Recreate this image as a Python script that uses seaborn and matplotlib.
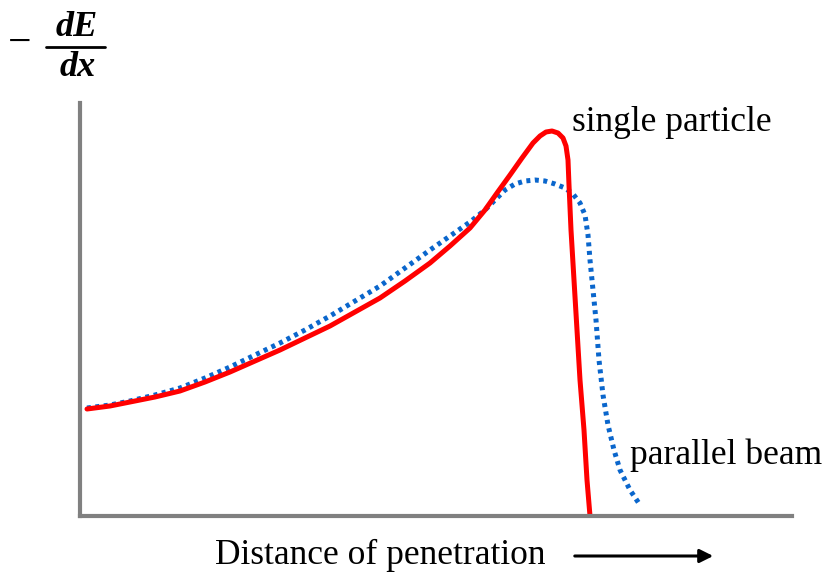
import numpy as np
import pandas as pd
import matplotlib
matplotlib.use('Agg')
import matplotlib.pyplot as plt
import seaborn as sns
from matplotlib.lines import Line2D

# curve values (arbitrary units)
x_single = [7, 30, 50, 75, 100, 125, 150, 175, 200, 225, 250, 275, 300, 325, 350, 370, 390, 405,
            417, 430, 442, 453, 460, 466, 472, 478, 483, 486, 488, 489, 491, 494, 497, 500, 504, 507, 510]
y_single = [107, 110, 114, 119, 125, 134, 144, 155, 166, 178, 190, 204, 218, 235, 253, 270, 288, 306,
            323, 341, 358, 373, 380, 384, 385, 383, 378, 370, 356, 331, 286, 236, 186, 136, 86, 36, 0]

x_beam = [7, 30, 50, 75, 100, 125, 150, 175, 200, 225, 250, 275, 300, 325, 350, 370, 390, 405, 415,
          425, 435, 445, 455, 465, 475, 485, 493, 500, 505, 508, 510, 513, 516, 519, 523, 528, 534, 540,
          550, 560]
y_beam = [108, 111, 115, 121, 128, 138, 149, 161, 173, 186, 200, 215, 230, 248, 266, 280, 294, 306, 316,
          326, 332, 335, 336, 335, 332, 328, 322, 313, 301, 281, 256, 226, 196, 156, 121, 91, 66, 46,
          26, 11]

df_single = pd.DataFrame({'x': x_single, 'y': y_single})
df_beam = pd.DataFrame({'x': x_beam, 'y': y_beam})

sns.set_style('white')
plt.rcParams['font.family'] = ['Liberation Serif', 'DejaVu Serif']
plt.rcParams['text.color'] = 'black'

fig = plt.figure(figsize=(8.27, 5.73), dpi=100)
ax = fig.add_axes([80/827, 57/573, 712/827, 413/573])

sns.lineplot(data=df_beam, x='x', y='y', ax=ax, color='#0a66cc', lw=3.6,
             linestyle=(0, (0.8, 0.9)), sort=False)
sns.lineplot(data=df_single, x='x', y='y', ax=ax, color='#ff0000', lw=3.6, sort=False)

ax.set_xlim(0, 712)
ax.set_ylim(0, 413)
ax.set_xticks([])
ax.set_yticks([])
ax.set_xlabel('')
ax.set_ylabel('')
for s in ['top', 'right']:
    ax.spines[s].set_visible(False)
for s in ['left', 'bottom']:
    ax.spines[s].set_color('#808080')
    ax.spines[s].set_linewidth(3)

ax.text(492, 394, 'single particle', fontsize=25.5, ha='left', va='center', color='black')
ax.text(550, 61, 'parallel beam', fontsize=25.5, ha='left', va='center', color='black')

fig.text(215/827, 1 - 555/573, 'Distance of penetration', fontsize=25.5, ha='left', va='center', color='black')
ax.annotate('', xy=(716/827, 1 - 556/573), xytext=(572/827, 1 - 556/573),
            xycoords='figure fraction', textcoords='figure fraction',
            arrowprops=dict(arrowstyle='-|>', color='black', lw=2.2, mutation_scale=20))

# y label: - dE/dx
fig.text(20/827, 1 - 44/573, '\u2212', fontsize=30, ha='center', va='center', color='black')
fig.text(77/827, 1 - 27/573, 'dE', fontsize=26, fontweight='bold', style='italic', ha='center', va='center', color='black')
fig.text(78/827, 1 - 67/573, 'dx', fontsize=26, fontweight='bold', style='italic', ha='center', va='center', color='black')
fig.add_artist(Line2D([46/827, 105/827], [1 - 47/573, 1 - 47/573], transform=fig.transFigure, color='black', lw=2))

plt.savefig('out.png', dpi=100)
